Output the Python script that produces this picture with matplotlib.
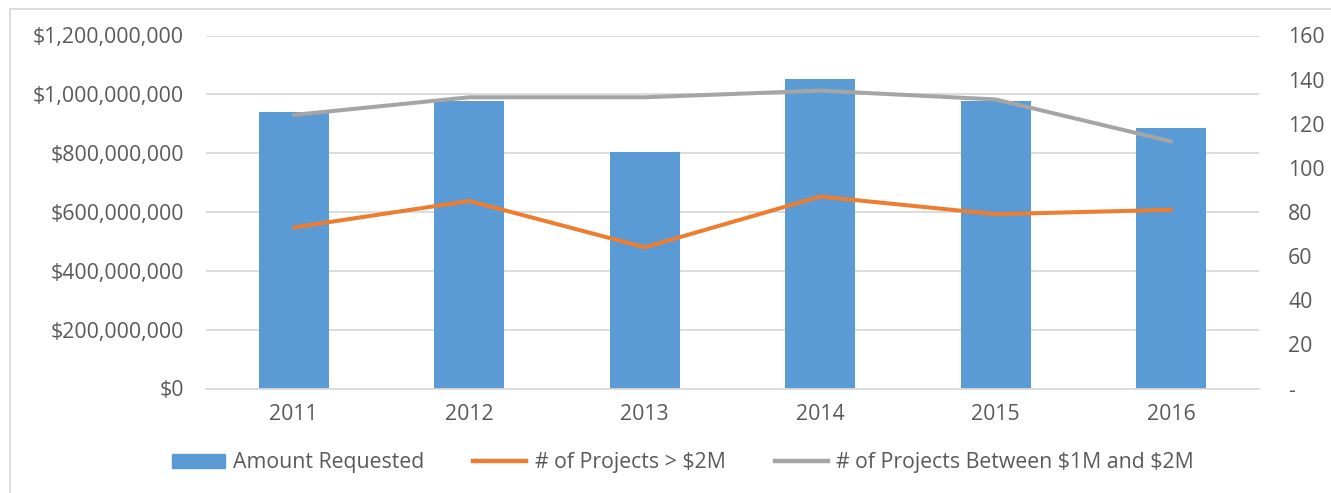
import matplotlib.pyplot as plt
from matplotlib.ticker import FuncFormatter, FixedLocator
from matplotlib.lines import Line2D

# Data
years = ["2011", "2012", "2013", "2014", "2015", "2016"]
amount_requested = [939e6, 978e6, 803e6, 1051e6, 978e6, 887e6]
projects_over_2m = [73, 85, 64, 87, 79, 81]
projects_1m_2m = [124, 132, 132, 135, 131, 112]

BLUE = "#5b9bd5"
ORANGE = "#ed7d31"
GRAY = "#a5a5a5"
TEXT = "#595959"
GRID = "#d9d9d9"
FS = 15.3

plt.rcParams["font.family"] = ["Open Sans", "DejaVu Sans"]
plt.rcParams["font.size"] = FS
plt.rcParams["text.parse_math"] = False

fig = plt.figure(figsize=(13.31, 4.93), dpi=100)
ax = fig.add_axes([206 / 1331, 1 - 388.5 / 493, 1053 / 1331, 353 / 493])
ax2 = ax.twinx()

x = list(range(len(years)))
ax.bar(x, amount_requested, width=0.4, color=BLUE, zorder=2,
       label="Amount Requested")
ax.set_ylim(0, 1.2e9)
ax.set_xlim(-0.5, len(years) - 0.5)
ax.yaxis.set_major_locator(FixedLocator([i * 2e8 for i in range(7)]))
ax.yaxis.set_major_formatter(FuncFormatter(lambda v, p: f"${v:,.0f}"))
ax.set_xticks(x)
ax.set_xticklabels(years)
ax.grid(axis="y", color=GRID, linewidth=1.3, zorder=0)
ax.set_axisbelow(True)
for s in ["top", "right", "left"]:
    ax.spines[s].set_visible(False)
ax.spines["bottom"].set_color(GRID)
ax.spines["bottom"].set_linewidth(1.3)
ax.tick_params(axis="both", length=0, colors=TEXT, labelsize=FS)
ax.tick_params(axis="y", pad=16)
ax.tick_params(axis="x", pad=11)

ax2.plot(x, projects_over_2m, color=ORANGE, linewidth=2.9,
         solid_capstyle="round", zorder=3)
ax2.plot(x, projects_1m_2m, color=GRAY, linewidth=2.9,
         solid_capstyle="round", zorder=3)
ax2.set_ylim(0, 160)
ax2.yaxis.set_major_locator(FixedLocator(range(0, 161, 20)))
ax2.yaxis.set_major_formatter(
    FuncFormatter(lambda v, p: "-" if v == 0 else f"{v:.0f}"))
for s in ax2.spines.values():
    s.set_visible(False)
ax2.tick_params(axis="y", length=0, colors=TEXT, labelsize=FS, pad=21)

# legend along the bottom
handles = [
    plt.Rectangle((0, 0), 1, 1, color=BLUE),
    Line2D([0], [0], color=ORANGE, linewidth=3.2),
    Line2D([0], [0], color=GRAY, linewidth=3.2),
]
labels = ["Amount Requested", "# of Projects > $2M",
          "# of Projects Between $1M and $2M"]
leg = fig.legend(handles, labels, loc="center", bbox_to_anchor=(0.513, 0.061),
                 ncol=3, frameon=False, handlelength=2.5, handleheight=0.6,
                 handletextpad=0.4, columnspacing=2.3, fontsize=FS)
for t in leg.get_texts():
    t.set_color(TEXT)

# thin chart border (top and left edges visible in the reference)
fig.add_artist(Line2D([10 / 1331, 1], [1 - 9 / 493, 1 - 9 / 493],
                      transform=fig.transFigure, color=GRID, linewidth=1.3))
fig.add_artist(Line2D([10 / 1331, 10 / 1331], [0, 1 - 9 / 493],
                      transform=fig.transFigure, color=GRID, linewidth=1.3))

fig.savefig("out.png", dpi=100)
